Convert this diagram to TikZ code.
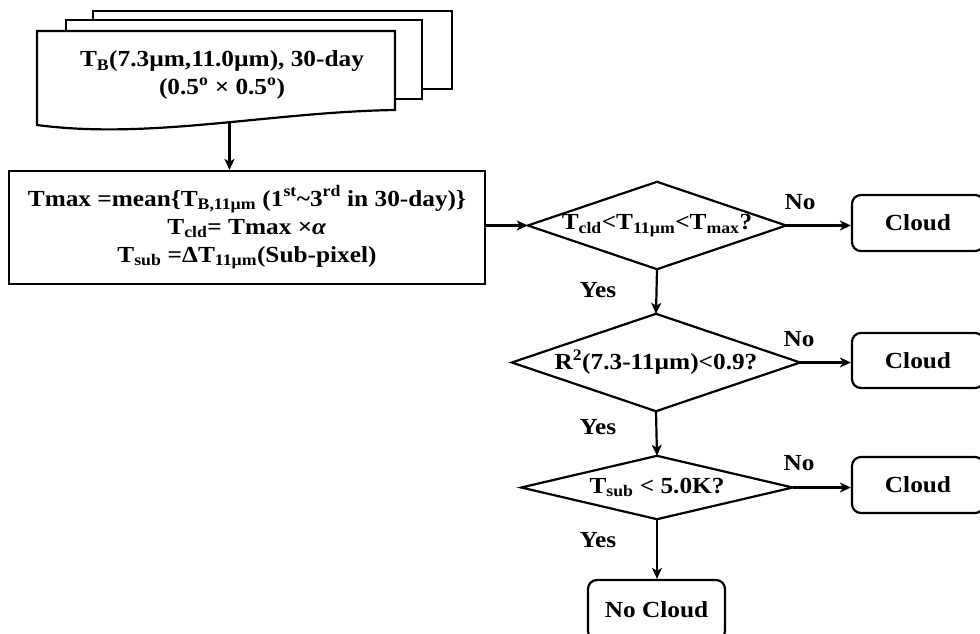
\documentclass[tikz,border=0pt]{standalone}
\usepackage{fontspec}
\setmainfont{Liberation Serif}[FakeStretch=1.1]
\usetikzlibrary{arrows.meta}
\begin{document}
\begin{tikzpicture}[x=1pt,y=-1pt,
  every node/.style={font=\fontsize{23}{28}\selectfont\bfseries},
  ln/.style={line width=2.2pt},
  arr/.style={ln,-{Stealth[length=11pt,width=10pt,inset=3pt]}},
  helper/.style={draw=none,inner sep=0pt},
  boxx/.style={draw,ln,fill=white,inner sep=0pt,align=center},
  rbox/.style={draw,ln,rounded corners=9pt,inner sep=0pt},
  lbl/.style={inner sep=0pt}]
\useasboundingbox (0,0) rectangle (980,634);
\clip (0,0) rectangle (980,634);
% stacked documents
\draw[ln,fill=white] (93,11) rectangle (452,89);
\draw[ln,fill=white] (66,20) rectangle (422,99);
\draw[ln,fill=white] (37,125) -- (37,31) -- (395,31) -- (395,110)
  .. controls (270,112) and (150,140) .. coordinate[pos=0.45] (w) (37,125) -- cycle;
\node[lbl,align=center] (src) at (222,75)
  {T\textsubscript{B}(7.3µm,11.0µm), 30-day\\(0.5\textsuperscript{o} × 0.5\textsuperscript{o})};
% calculation box
\node[boxx,minimum width=476pt,minimum height=113pt] (calc) at (247,227.5)
  {Tmax =mean\{T\textsubscript{B,11µm} (1\textsuperscript{st}\textasciitilde3\textsuperscript{rd} in 30-day)\}\\
   T\textsubscript{cld}= Tmax ×\textit{α}\\
   T\textsubscript{sub} =ΔT\textsubscript{11µm}(Sub-pixel)};
% decisions
\node[helper,minimum width=258pt,minimum height=87pt] (d1) at (657,225.5)
  {T\textsubscript{cld}<T\textsubscript{11µm}<T\textsubscript{max}?};
\node[helper,minimum width=288pt,minimum height=97pt] (d2) at (656,362.5)
  {R\textsuperscript{2}(7.3-11µm)<0.9?};
\node[helper,minimum width=271pt,minimum height=63pt] (d3) at (657,487.5)
  {T\textsubscript{sub} < 5.0K?};
\foreach \n in {d1,d2,d3}
  \draw[ln,line join=miter] (\n.north) -- (\n.east) -- (\n.south) -- (\n.west) -- cycle;
% results
\node[rbox,minimum width=132pt,minimum height=56pt] (c1) at (918,223) {Cloud};
\node[rbox,minimum width=132pt,minimum height=55pt] (c2) at (918,360.5) {Cloud};
\node[rbox,minimum width=132pt,minimum height=56pt] (c3) at (918,485) {Cloud};
\node[rbox,minimum width=137pt,minimum height=60pt] (nc) at (656.5,610) {No Cloud};
% connectors
\draw[arr] (w) -- (w |- calc.north);
\draw[arr] (calc.east |- d1.west) -- (d1.west);
\draw[arr] (d1.east) -- (d1.east -| c1.west);
\draw[arr] (d2.east) -- (d2.east -| c2.west);
\draw[arr] (d3.east) -- (d3.east -| c3.west);
\draw[arr] (d1.south) -- (d2.north);
\draw[arr] (d2.south) -- (d3.north);
\draw[arr] (d3.south) -- (d3.south |- nc.north);
% labels
\node[lbl] (n1) at (800,202) {No};
\node[lbl] (n2) at (799,339) {No};
\node[lbl] (n3) at (799,463) {No};
\node[lbl] (y1) at (598,290) {Yes};
\node[lbl] (y2) at (598,427) {Yes};
\node[lbl] (y3) at (598,540) {Yes};
\end{tikzpicture}
\end{document}
